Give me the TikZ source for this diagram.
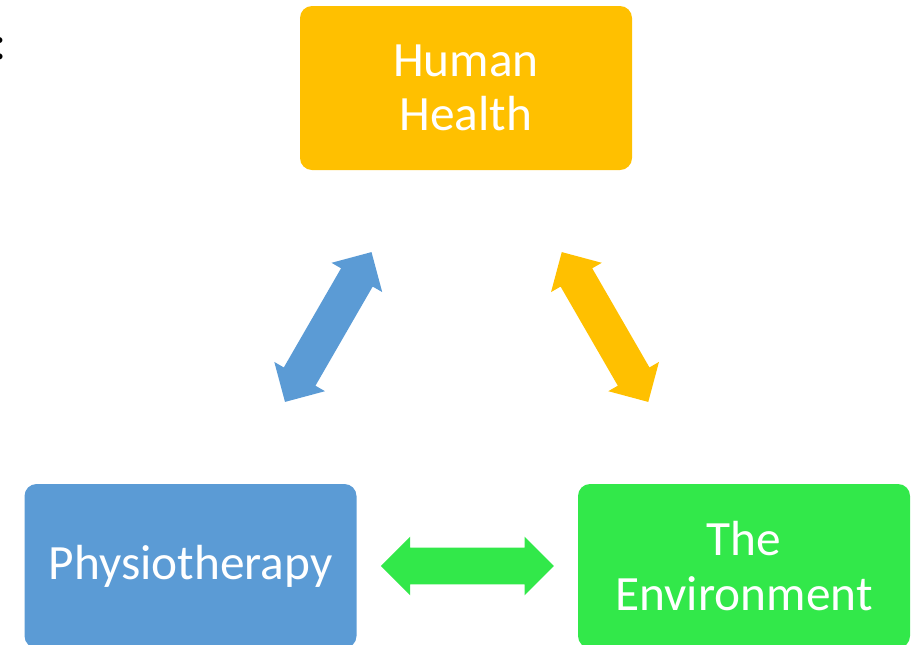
\documentclass[tikz,border=0pt]{standalone}
\usepackage{fontspec}
\setmainfont{Carlito}
\usetikzlibrary{positioning, shapes.arrows, calc}
\definecolor{healthorange}{RGB}{255,192,0}
\definecolor{physioblue}{RGB}{91,155,213}
\definecolor{envgreen}{RGB}{50,232,74}

\begin{document}
\begin{tikzpicture}[x=0.75pt, y=0.75pt,
                font=\fontsize{37}{41}\selectfont,
                topic/.style={fill=#1, text=white, align=center, inner sep=0pt,
                              rounded corners=9pt, minimum width=249pt, minimum height=123pt},
                link/.style={double arrow, fill=#1, inner xsep=0pt, inner ysep=13.5pt,
                             minimum height=129.75pt, double arrow head extend=8.25pt}]
                \useasboundingbox (0,0) rectangle (915,-644);

                % Topics - Human Health on top, the other two below
                \node[anchor=base] (colon) at (0,-59) {:};
                \node[topic=healthorange] (health) at (466,-88) {Human\\Health};
                \node[topic=physioblue] (physio) at (190.5,-566) {Physiotherapy};
                \node[topic=envgreen, right=165.75pt of physio] (env) {The\\Environment};

                % Links - double arrows halfway between the topics
                \node[link=physioblue, rotate=60] (physiohealth) at ($(physio)!0.5!(health)$) {};
                \node[link=healthorange, rotate=-60] (healthenv) at ($(health)!0.5!(env)$) {};
                \node[link=envgreen] (physioenv) at ($(physio)!0.5!(env)$) {};
            \end{tikzpicture}
\end{document}
